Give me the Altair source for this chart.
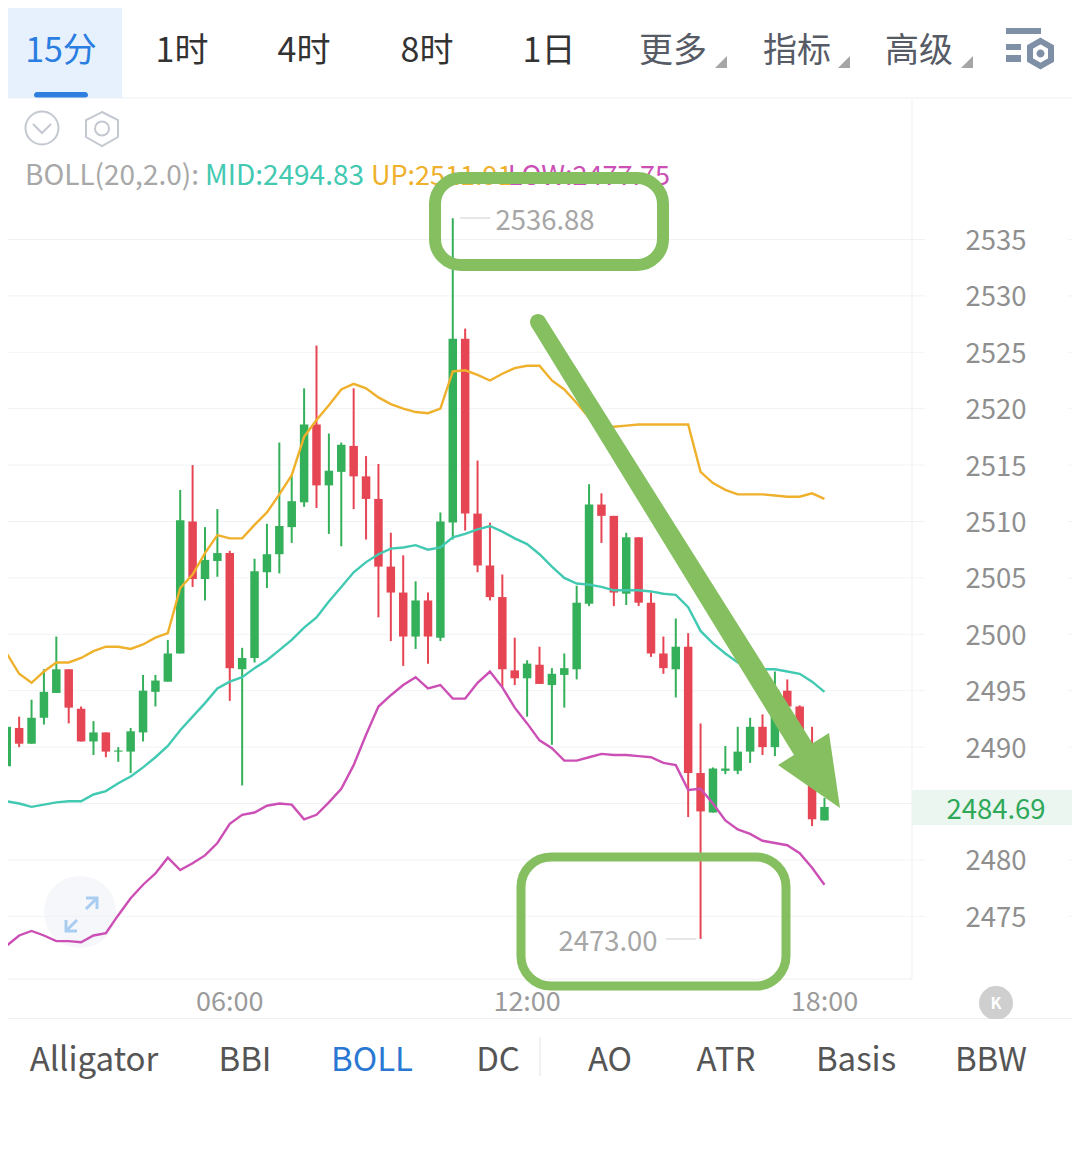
import altair as alt
import pandas as pd

# ---- market data ----
idx = list(range(6, 73))
opens = [2488.3,2491.7,2490.3,2492.6,2494.8,2496.9,2493.4,2490.5,2491.3,2489.6,2489.6,2491.3,2494.9,2495.8,2498.3,2510.0,2504.9,2506.5,2507.2,2496.9,2497.9,2505.5,2507.1,2509.5,2511.7,2518.6,2513.2,2514.4,2516.7,2514.0,2512.0,2506.0,2503.7,2499.8,2503.0,2499.7,2509.9,2526.2,2510.7,2506.1,2503.3,2496.8,2496.1,2497.3,2495.5,2496.4,2496.9,2502.7,2511.5,2510.5,2503.6,2508.6,2502.8,2498.3,2496.9,2498.9,2487.7,2484.2,2487.9,2487.9,2489.6,2491.8,2490.0,2495.0,2493.6,2488.0,2483.5]
closes = [2491.8,2490.3,2492.6,2494.9,2496.9,2493.5,2490.5,2491.3,2489.6,2489.7,2491.4,2495.0,2495.9,2498.3,2510.1,2504.9,2506.6,2507.2,2497.0,2497.9,2505.6,2507.1,2509.6,2511.8,2518.6,2513.2,2514.5,2516.8,2514.0,2512.0,2506.0,2503.7,2499.8,2503.0,2499.8,2510.0,2526.2,2510.7,2506.1,2503.3,2496.9,2496.1,2497.4,2495.6,2496.5,2497.0,2502.8,2511.5,2510.5,2503.7,2508.6,2502.8,2498.3,2497.0,2498.9,2487.7,2484.3,2488.1,2488.1,2489.6,2491.8,2490.0,2495.1,2493.6,2488.0,2483.6,2484.69]
highs = [2493.1,2492.7,2494.2,2496.9,2499.8,2496.9,2493.6,2492.3,2491.3,2490.0,2491.7,2496.4,2496.4,2499.5,2512.8,2515.0,2509.5,2511.1,2507.4,2498.8,2506.7,2509.8,2517.0,2514.1,2521.8,2525.6,2517.8,2517.0,2521.8,2515.8,2515.1,2509.0,2507.0,2504.7,2503.7,2510.8,2536.88,2527.1,2515.4,2509.9,2505.3,2499.7,2497.7,2498.9,2497.0,2498.3,2504.3,2513.3,2512.5,2510.5,2509.0,2508.6,2503.7,2499.8,2501.4,2500.1,2492.1,2488.2,2490.1,2491.8,2492.6,2492.9,2496.7,2496.0,2493.7,2491.8,2485.5]
lows = [2487.1,2490.0,2490.3,2492.0,2494.8,2492.1,2490.5,2489.3,2489.1,2488.7,2487.7,2490.5,2493.6,2495.8,2498.3,2504.2,2503.0,2505.1,2494.1,2486.6,2497.5,2504.1,2505.4,2508.1,2511.3,2511.2,2508.9,2507.8,2511.1,2508.4,2501.5,2499.4,2497.2,2498.7,2497.4,2499.4,2508.4,2509.2,2505.5,2503.0,2495.3,2495.5,2492.7,2495.6,2490.2,2493.5,2496.0,2502.5,2508.1,2502.5,2502.6,2502.5,2498.0,2496.5,2494.4,2483.8,2473.00,2484.2,2487.6,2487.6,2488.6,2489.3,2489.2,2493.1,2487.5,2483.0,2483.5]

line_idx = list(range(5, 73))
boll_up = [2499.9,2498.3,2496.5,2495.7,2496.7,2497.5,2497.5,2497.9,2498.5,2498.9,2498.9,2498.7,2499.1,2499.7,2500.1,2504.1,2505.3,2507.2,2508.8,2508.5,2508.5,2509.7,2510.8,2512.4,2514.1,2517.5,2519.0,2520.3,2521.7,2522.2,2521.8,2521.0,2520.4,2520.0,2519.7,2519.6,2520.0,2523.3,2523.4,2523.0,2522.5,2523.1,2523.6,2523.8,2523.8,2522.5,2521.7,2520.5,2519.2,2518.4,2518.4,2518.5,2518.6,2518.6,2518.6,2518.6,2518.6,2514.4,2513.4,2512.8,2512.4,2512.4,2512.4,2512.3,2512.2,2512.2,2512.5,2512.0]
boll_mid = [2485.7,2485.2,2485.0,2484.7,2484.9,2485.1,2485.2,2485.2,2485.8,2486.1,2486.8,2487.4,2488.2,2489.1,2490.1,2491.5,2492.7,2493.9,2495.2,2495.8,2496.2,2497.0,2497.7,2498.6,2499.5,2500.6,2501.5,2502.9,2504.2,2505.5,2506.4,2507.1,2507.6,2507.7,2507.9,2507.5,2507.7,2508.6,2508.9,2509.3,2509.6,2509.1,2508.5,2508.0,2507.1,2506.0,2505.0,2504.5,2504.4,2504.2,2503.9,2503.9,2503.9,2503.8,2503.6,2503.5,2502.4,2500.3,2499.2,2498.3,2497.5,2497.1,2496.9,2496.9,2496.7,2496.5,2495.8,2494.9]
boll_low = [2471.6,2472.4,2473.3,2473.7,2473.3,2472.8,2472.8,2472.7,2473.3,2473.5,2475.1,2476.6,2477.8,2478.8,2480.2,2479.1,2479.7,2480.4,2481.5,2483.2,2484.0,2484.2,2484.8,2485.0,2484.9,2483.6,2484.0,2485.1,2486.3,2488.4,2491.1,2493.6,2494.6,2495.5,2496.2,2495.2,2495.5,2494.3,2494.3,2495.7,2496.7,2495.3,2493.5,2492.1,2490.6,2489.9,2488.8,2488.8,2489.1,2489.4,2489.3,2489.3,2489.2,2489.1,2488.6,2488.4,2486.2,2486.3,2485.0,2483.5,2482.7,2482.3,2481.7,2481.5,2481.3,2480.6,2479.3,2477.8]

price_ticks = [2535, 2530, 2525, 2520, 2515, 2510, 2505, 2500, 2495, 2490, 2485, 2480, 2475]
price_labels_shown = [p for p in price_ticks if p != 2485]
time_labels = ["06:00", "12:00", "18:00"]
time_idx = [24, 48, 72]
tab_labels = ["15分", "1时", "4时", "8时", "1日", "更多", "指标", "高级"]
indicator_labels = ["Alligator", "BBI", "BOLL", "DC", "AO", "ATR", "Basis", "BBW"]

# ---- styling ----
FONT = "Noto Sans CJK SC"
GREEN, RED = "#35b05a", "#e64553"
YEL, TEAL, MAG = "#efb02c", "#42c9b2", "#cb4fb5"
MARK = "#85bf60"
GRID = "#f0f3f5"
W, H = 1064, 1139   # the page margin takes 8px on each side
M = 8               # page coordinates -> plot coordinates
DY = 2.5            # this font's "middle" sits a little high
X = alt.Scale(domain=[6.10, 91.98], nice=False, zero=False, padding=0)
Y = alt.Scale(domain=[2454.55, 2555.52], nice=False, zero=False)
one = alt.Data(values=[{"a": 1}])


def txt(s, x, y, color, size, align="center", weight=400):
    return alt.Chart(alt.Data(values=[{"t": s}])).mark_text(
        font=FONT, fontSize=size, color=color, align=align, baseline="middle", fontWeight=weight
    ).encode(x=alt.value(x - M), y=alt.value(y - M + DY), text="t:N")


def box(x, x2, y, y2, color, radius=0):
    return alt.Chart(one).mark_rect(color=color, cornerRadius=radius).encode(
        x=alt.value(x - M), x2=alt.value(x2 - M), y=alt.value(y - M), y2=alt.value(y2 - M))


def seg(x, x2, y, y2, color, width=1, cap="butt"):
    return alt.Chart(one).mark_rule(color=color, strokeWidth=width, strokeCap=cap).encode(
        x=alt.value(x - M), x2=alt.value(x2 - M), y=alt.value(y - M), y2=alt.value(y2 - M))


def frame(x, x2, y, y2, width, radius):
    return alt.Chart(one).mark_rect(fillOpacity=0, stroke=MARK, strokeWidth=width, cornerRadius=radius).encode(
        x=alt.value(x - M), x2=alt.value(x2 - M), y=alt.value(y - M), y2=alt.value(y2 - M))


def glyph(path, fill=None, stroke=None, width=2):
    kw = dict(shape=path, size=4, opacity=1)
    if fill:
        kw.update(filled=True, fill=fill, strokeWidth=0)
    else:
        kw.update(filled=False, stroke=stroke, strokeWidth=width)
    return alt.Chart(one).mark_point(**kw).encode(x=alt.value(-M), y=alt.value(-M))


def circle_path(cx, cy, r):
    return f"M{cx-r},{cy}A{r},{r} 0 1,0 {cx+r},{cy}A{r},{r} 0 1,0 {cx-r},{cy}Z"


# ---- data tables ----
candles = pd.DataFrame({"i": idx, "o": opens, "c": closes, "h": highs, "l": lows})
candles["dir"] = ["up" if c >= o else "down" for o, c in zip(opens, closes)]
bands = pd.DataFrame({"i": line_idx, "up": boll_up, "mid": boll_mid, "low": boll_low})
color = alt.Color("dir:N", scale=alt.Scale(domain=["up", "down"], range=[GREEN, RED]), legend=None)
x_enc = alt.X("i:Q", scale=X, axis=None)

wicks = alt.Chart(candles).mark_rule(strokeWidth=2).encode(
    x=x_enc, y=alt.Y("l:Q", scale=Y, axis=None), y2="h:Q", color=color)
bodies = alt.Chart(candles).mark_bar(size=8.5).encode(
    x=x_enc, y=alt.Y("o:Q", scale=Y, axis=None), y2="c:Q", color=color)


def band(field, col):
    return alt.Chart(bands).mark_line(color=col, strokeWidth=2.4, clip=True).encode(
        x=x_enc, y=alt.Y(f"{field}:Q", scale=Y, axis=None))


grid_df = pd.DataFrame({"p": price_ticks})
grid_l = alt.Chart(grid_df).mark_rule(color=GRID, strokeWidth=1).encode(
    x=alt.value(0), x2=alt.value(925 - M), y=alt.Y("p:Q", scale=Y, axis=None))
grid_r = alt.Chart(grid_df).mark_rule(color=GRID, strokeWidth=1).encode(
    x=alt.value(1068 - M), x2=alt.value(W), y=alt.Y("p:Q", scale=Y, axis=None))
price_text = alt.Chart(pd.DataFrame({"p": price_labels_shown})).mark_text(
    font=FONT, fontSize=27.5, color="#8f8f8f", align="center", baseline="middle", dy=DY
).encode(x=alt.value(996 - M), y=alt.Y("p:Q", scale=Y, axis=None), text=alt.Text("p:Q", format="d"))
time_text = alt.Chart(pd.DataFrame({"i": time_idx, "t": time_labels})).mark_text(
    font=FONT, fontSize=27, color="#9a9a9a", align="center", baseline="middle"
).encode(x=x_enc, y=alt.value(1000 - M + DY), text="t:N")

# ---- page furniture ----
under = [
    box(0, 122, 0, 98, "#e7f1fd"),
    box(34, 88, 92, 98, "#2f7fe0", 3),
    seg(0, 1080, 98, 98, "#eef0f2"),
    seg(912, 912, 98, 979, "#f0f1f3"),
    seg(0, 912, 979, 979, "#eeeeee"),
    seg(0, 1080, 1018.5, 1018.5, "#f0f0f0"),
    seg(540, 540, 1037, 1076, "#e4e4e4"),
    box(912, 1080, 790, 825, "#ebf6f0"),
    glyph(circle_path(80, 912, 36), fill="#f5f7fb"),
    glyph("M66,920L66,931L77,931M66,931L77,920M86,909L97,898M86,898L97,898L97,909", stroke="#a9cdf1", width=3),
    glyph(circle_path(42, 128, 16.5), stroke="#c3c8d1", width=2),
    glyph("M33,124L42,133L51,124", stroke="#c3c8d1", width=2),
    glyph("M102,112L118,120L118,137L102,146L86,137L86,120Z", stroke="#c3c8d1", width=2),
    glyph(circle_path(102, 128.5, 7), stroke="#c3c8d1", width=2),
    glyph(circle_path(996, 1003, 17), fill="#cfcfcf"),
    txt("K", 996, 1001, "#ffffff", 16, weight=700),
    box(980, 1012, 1019, 1024, "#ffffff"),
    glyph("M727,56L727,68L715,68Z", fill="#a6a6a6"),
    glyph("M850,56L850,68L838,68Z", fill="#a6a6a6"),
    glyph("M973,56L973,68L961,68Z", fill="#a6a6a6"),
    box(1006, 1041, 28, 34, "#7f8fa6"),
    box(1006, 1021, 44, 50, "#7f8fa6"),
    box(1006, 1021, 55, 62, "#7f8fa6"),
    glyph("M1040.5,41L1051,47L1051,60L1040.5,66L1030,60L1030,47Z", stroke="#7f8fa6", width=6),
    glyph(circle_path(1040.5, 53.5, 4), fill="#7f8fa6"),
]

tab_x = [61, 182, 304, 427, 549, 673, 797, 919]
tab_col = ["#2a7de1"] + ["#333333"] * 4 + ["#565b66"] * 3
tabs = [txt(s, x, 49, c, 34) for s, x, c in zip(tab_labels, tab_x, tab_col)]

ind_x = [94, 245, 372, 498, 610, 726, 856, 991]
inds = [txt(s, x, 1058, "#2a78d4" if s == "BOLL" else "#555555", 33) for s, x in zip(indicator_labels, ind_x)]

legend = [
    txt("BOLL(20,2.0):", 25, 174, "#a8a8a8", 28, "left"),
    txt("MID:2494.83", 205, 174, TEAL, 28, "left"),
    txt("UP:2511.91", 371, 174, YEL, 27, "left"),
    txt("LOW:2477.75", 670, 174, MAG, 27, "right"),
]
extremes = [
    seg(460, 490, 218, 218, "#cfcfcf"),
    txt("2536.88", 545, 219, "#a6a6a6", 27.5),
    seg(666, 696, 939, 939, "#cfcfcf"),
    txt("2473.00", 608, 940, "#a6a6a6", 27.5),
    txt("2484.69", 996, 808, "#2fa85a", 27.5),
]
annot = [
    frame(435, 663, 178, 265, 12, 26),
    frame(521, 786, 857, 986, 9, 30),
    glyph("M544.8,317.8L814.4,746.2L795.7,757.8L531.2,326.2Z", fill=MARK),
    glyph(circle_path(538, 322, 8), fill=MARK),
    glyph("M778,765L829,733L840,808Z", fill=MARK),
]

chart = alt.layer(
    *under,
    grid_l, grid_r,
    wicks, bodies,
    band("up", YEL), band("mid", TEAL), band("low", MAG),
    price_text, time_text,
    *tabs, *inds, *legend, *extremes, *annot,
).resolve_scale(x="shared", y="shared").properties(
    width=W, height=H,
    padding=0,
    autosize=alt.AutoSizeParams(type="none"),
    background="#ffffff",
).configure_view(stroke=None)

chart.save("out.html", embed_options={"renderer": "svg", "actions": False})
